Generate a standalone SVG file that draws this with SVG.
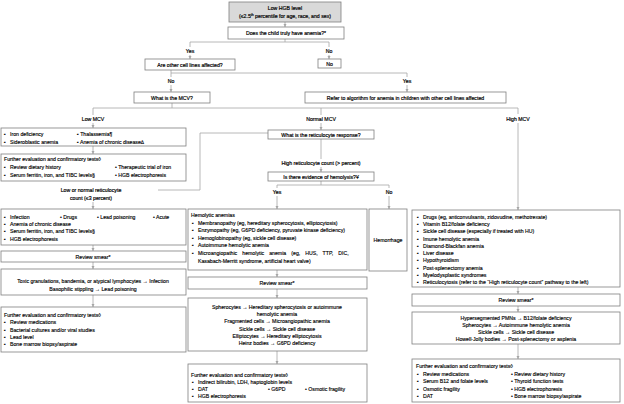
<svg xmlns="http://www.w3.org/2000/svg" width="624" height="404" viewBox="0 0 624 404">
<defs>
<style>
text{font-family:"Liberation Sans","DejaVu Sans",Arial,sans-serif;font-size:5.2px;fill:#000;stroke:#000;stroke-width:0.14}
.c{text-anchor:middle}
.b{stroke-width:0.18}
.box{fill:#fff;stroke:#7f7f7f;stroke-width:0.8}
.gray{fill:#d9d9d9}
.ln{fill:none;stroke:#a6a6a6;stroke-width:0.8}
.ar{marker-end:url(#ah)}
</style>
<marker id="ah" viewBox="0 0 6 6" refX="6" refY="3" markerWidth="4" markerHeight="4" orient="auto">
<path d="M0,0 L6,3 L0,6 z" fill="#a6a6a6"/>
</marker>
</defs>
<rect width="624" height="404" fill="#fff"/>

<g id="connectors">
<path class="ln ar" d="M285,22 V27"/>
<path class="ln" d="M285,39 V42 M190,42 H329 M190,42 V47 M329,42 V47"/>
<path class="ln ar" d="M190,55 V59"/>
<path class="ln ar" d="M329,55 V59"/>
<path class="ln" d="M171,70 V77 M171,73 H407 V77"/>
<path class="ln ar" d="M171,85 V92"/>
<path class="ln ar" d="M407,85 V92"/>
<path class="ln" d="M172,103 V108 M93,108 H518 M93,108 V115 M321,108 V115 M518,108 V114"/>
<path class="ln ar" d="M93,123 V128"/>
<path class="ln ar" d="M321,123 V130"/>
<path class="ln ar" d="M518,123 V210"/>
<path class="ln ar" d="M93,146 V154"/>
<path class="ln" d="M268,133 H200 V190 H158"/>
<path class="ln ar" d="M93,202 V209"/>
<path class="ln ar" d="M93,245 V251"/>
<path class="ln ar" d="M93,262 V269"/>
<path class="ln ar" d="M93,295 V307"/>
<path class="ln" d="M321,139 V159"/>
<path class="ln ar" d="M321,167 V172"/>
<path class="ln" d="M321,181 V185 M277,185 H389 M277,185 V188 M389,185 V188"/>
<path class="ln ar" d="M277,196 V209"/>
<path class="ln ar" d="M389,196 V209"/>
<path class="ln ar" d="M277,270 V277"/>
<path class="ln ar" d="M277,289 V298"/>
<path class="ln ar" d="M277,351 V364"/>
<path class="ln ar" d="M518,287 V294"/>
<path class="ln ar" d="M518,306 V312"/>
<path class="ln ar" d="M518,344 V359"/>
<text class="c b" x="190" y="53">Yes</text>
<text class="c b" x="329" y="53">No</text>
<text class="c b" x="171" y="83">No</text>
<text class="c b" x="407" y="83">Yes</text>
<text class="c b" x="93" y="121">Low MCV</text>
<text class="c b" x="321" y="121">Normal MCV</text>
<text class="c b" x="518" y="121">High MCV</text>
<text class="c b" x="91" y="192">Low or normal reticulocyte</text>
<text class="c b" x="91" y="200">count (≤3 percent)</text>
<text class="c b" x="321" y="165">High reticulocyte count (&gt; percent)</text>
<text class="c b" x="277" y="194">Yes</text>
<text class="c b" x="389" y="194">No</text>
</g>

<g id="n-low-hgb">
<rect class="box gray" x="229" y="2" width="112" height="20"/>
<text class="c b" x="285" y="10">Low HGB level</text>
<text class="c b" x="285" y="18">(≤2.5<tspan font-size="3.4" dy="-1.6">th</tspan><tspan dy="1.6"> percentile for age, race, and sex)</tspan></text>
</g>
<g id="n-anemia">
<rect class="box" x="228" y="27" width="116" height="12"/>
<text class="c b" x="286" y="35">Does the child truly have anemia?*</text>
</g>
<g id="n-no">
<rect class="box" x="318" y="59" width="23" height="9"/>
<text class="c b" x="329.5" y="65.5">No</text>
</g>
<g id="n-cell-lines">
<rect class="box" x="145" y="59" width="90" height="11"/>
<text class="c b" x="190" y="66.5">Are other cell lines affected?</text>
</g>
<g id="n-mcv">
<rect class="box" x="134" y="92" width="76" height="11"/>
<text class="c b" x="172" y="99.5">What is the MCV?</text>
</g>
<g id="n-refer">
<rect class="box" x="305" y="92" width="201" height="11"/>
<text class="c b" x="405.5" y="99.5">Refer to algorithm for anemia in children with other cell lines affected</text>
</g>
<g id="n-low-dx">
<rect class="box" x="1" y="128" width="185" height="18"/>
<text x="4" y="136">▪<tspan x="10">Iron deficiency</tspan></text>
<text x="77" y="136">▪ Thalassemia¶</text>
<text x="4" y="144">▪<tspan x="10">Sideroblastic anemia</tspan></text>
<text x="77" y="144">▪ Anemia of chronic disease∆</text>
</g>
<g id="n-low-tests">
<rect class="box" x="1" y="154" width="185" height="27"/>
<text x="4" y="161">Further evaluation and confirmatory tests◊</text>
<text x="4" y="169">▪<tspan x="10">Review dietary history</tspan></text>
<text x="115" y="169">• Therapeutic trial of iron</text>
<text x="4" y="177">▪<tspan x="10">Serum ferritin, iron, and TIBC levels§</tspan></text>
<text x="115" y="177">• HGB electrophoresis</text>
</g>
<g id="n-retic">
<rect class="box" x="268" y="130" width="106" height="9"/>
<text class="c b" x="321" y="136.5">What is the reticulocyte response?</text>
</g>
<g id="n-hemolysis">
<rect class="box" x="268" y="172" width="106" height="9"/>
<text class="c b" x="321" y="178.5">Is there evidence of hemolysis?¥</text>
</g>
<g id="n-lowret-dx">
<rect class="box" x="1" y="209" width="185" height="36"/>
<text x="4" y="219">▪<tspan x="10">Infection</tspan></text>
<text x="60" y="219">• Drugs</text>
<text x="97" y="219">• Lead poisoning</text>
<text x="153" y="219">• Acute</text>
<text x="4" y="226">▪<tspan x="10">Anemia of chronic disease</tspan></text>
<text x="4" y="233">▪<tspan x="10">Serum ferritin, iron, and TIBC levels§</tspan></text>
<text x="4" y="241">▪<tspan x="10">HGB electrophoresis</tspan></text>
</g>
<g id="n-lowret-smear">
<rect class="box" x="1" y="251" width="185" height="11"/>
<text class="c" x="93" y="258.5">Review smear*</text>
</g>
<g id="n-lowret-find">
<rect class="box" x="1" y="269" width="185" height="26"/>
<text class="c" x="93" y="283">Toxic granulations, bandemia, or atypical lymphocytes → Infection</text>
<text class="c" x="93" y="291">Basophilic stippling → Lead poisoning</text>
</g>
<g id="n-lowret-tests">
<rect class="box" x="1" y="307" width="185" height="45"/>
<text x="4" y="317">Further evaluation and confirmatory tests◊</text>
<text x="4" y="324">▪<tspan x="10">Review medications</tspan></text>
<text x="4" y="332">▪<tspan x="10">Bacterial cultures and/or viral studies</tspan></text>
<text x="4" y="339">▪<tspan x="10">Lead level</tspan></text>
<text x="4" y="346">▪<tspan x="10">Bone marrow biopsy/aspirate</tspan></text>
</g>
<g id="n-hemolytic">
<rect class="box" x="188" y="209" width="179" height="61"/>
<text x="191" y="217">Hemolytic anemias</text>
<text x="192" y="225">▪<tspan x="198">Membranopathy (eg, hereditary spherocytosis, elliptocytosis)</tspan></text>
<text x="192" y="232">▪<tspan x="198">Enzymopathy (eg, G6PD deficiency, pyruvate kinase deficiency)</tspan></text>
<text x="192" y="240">▪<tspan x="198">Hemoglobinopathy (eg, sickle cell disease)</tspan></text>
<text x="192" y="247">▪<tspan x="198">Autoimmune hemolytic anemia</tspan></text>
<text x="192" y="255">▪<tspan x="198" word-spacing="3.6">Microangiopathic hemolytic anemia (eg, HUS, TTP, DIC,</tspan></text>
<text x="198" y="263">Kasabach-Merritt syndrome, artificial heart valve)</text>
</g>
<g id="n-hemorrhage">
<rect class="box" x="369" y="209" width="38" height="62"/>
<text class="c" x="388" y="242">Hemorrhage</text>
</g>
<g id="n-hemo-smear">
<rect class="box" x="188" y="277" width="179" height="12"/>
<text class="c" x="277" y="285">Review smear*</text>
</g>
<g id="n-hemo-find">
<rect class="box" x="188" y="298" width="179" height="53"/>
<text class="c" x="277" y="309">Spherocytes → Hereditary spherocytosis or autoimmune</text>
<text class="c" x="277" y="316">hemolytic anemia</text>
<text class="c" x="277" y="323">Fragmented cells → Microangiopathic anemia</text>
<text class="c" x="277" y="331">Sickle cells → Sickle cell disease</text>
<text class="c" x="277" y="338">Elliptocytes → Hereditary elliptocytosis</text>
<text class="c" x="277" y="345">Heinz bodies → G6PD deficiency</text>
</g>
<g id="n-hemo-tests">
<rect class="box" x="188" y="364" width="179" height="38"/>
<text x="191" y="377">Further evaluation and confirmatory tests◊</text>
<text x="192" y="384">▪<tspan x="198">Indirect bilirubin, LDH, haptoglobin levels</tspan></text>
<text x="192" y="391">▪<tspan x="198">DAT</tspan></text>
<text x="268" y="391">• G6PD</text>
<text x="305" y="391">• Osmotic fragility</text>
<text x="192" y="398">▪<tspan x="198">HGB electrophoresis</tspan></text>
</g>
<g id="n-high-dx">
<rect class="box" x="412" y="210" width="208" height="77"/>
<text x="417" y="219">▪<tspan x="423">Drugs (eg, anticonvulsants, zidovudine, methotrexate)</tspan></text>
<text x="417" y="226.3">▪<tspan x="423">Vitamin B12/folate deficiency</tspan></text>
<text x="417" y="233.3">▪<tspan x="423">Sickle cell disease (especially if treated with HU)</tspan></text>
<text x="417" y="240.7">▪<tspan x="423">Imune hemolytic anemia</tspan></text>
<text x="417" y="248">▪<tspan x="423">Diamond-Blackfan anemia</tspan></text>
<text x="417" y="255">▪<tspan x="423">Liver disease</tspan></text>
<text x="417" y="262.3">▪<tspan x="423">Hypothyroidism</tspan></text>
<text x="417" y="269.7">▪<tspan x="423">Post-splenectomy anemia</tspan></text>
<text x="417" y="276.7">▪<tspan x="423">Myelodysplastic syndromes</tspan></text>
<text x="417" y="284">▪<tspan x="423">Reticulocytosis (refer to the “High reticulocyte count” pathway to the left)</tspan></text>
</g>
<g id="n-high-smear">
<rect class="box" x="412" y="294" width="208" height="12"/>
<text class="c" x="516" y="302">Review smear*</text>
</g>
<g id="n-high-find">
<rect class="box" x="412" y="312" width="208" height="32"/>
<text class="c" x="516" y="320">Hypersegmented PMNs → B12/folate deficiency</text>
<text class="c" x="516" y="327">Spherocytes → Autoimmune hemolytic anemia</text>
<text class="c" x="516" y="334">Sickle cells → Sickle cell disease</text>
<text class="c" x="516" y="341">Howell-Jolly bodies → Post-splenectomy or asplenia</text>
</g>
<g id="n-high-tests">
<rect class="box" x="412" y="359" width="208" height="43"/>
<text x="416" y="368">Further evaluation and confirmatory tests◊</text>
<text x="417" y="376">▪<tspan x="423">Review medications</tspan></text>
<text x="511" y="376">• Review dietary history</text>
<text x="417" y="383">▪<tspan x="423">Serum B12 and folate levels</tspan></text>
<text x="511" y="383">• Thyroid function tests</text>
<text x="417" y="391">▪<tspan x="423">Osmotic fragility</tspan></text>
<text x="511" y="391">• HGB electrophoresis</text>
<text x="417" y="398">▪<tspan x="423">DAT</tspan></text>
<text x="511" y="398">• Bone marrow biopsy/aspirate</text>
</g>
</svg>
